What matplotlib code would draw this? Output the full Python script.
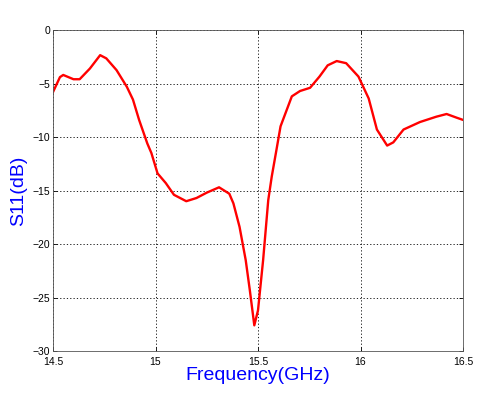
import numpy as np
import matplotlib
matplotlib.use('Agg')
import matplotlib.pyplot as plt

# S11
freq = [14.50, 14.534, 14.55, 14.60, 14.63, 14.68, 14.73, 14.76, 14.81, 14.86,
        14.89, 14.92, 14.96, 14.98, 15.01, 15.05, 15.09, 15.15, 15.20, 15.25,
        15.31, 15.36, 15.38, 15.41, 15.44, 15.46, 15.482, 15.50, 15.525, 15.55,
        15.567, 15.59, 15.61, 15.665, 15.705, 15.754, 15.80, 15.84, 15.884, 15.93,
        15.99, 16.04, 16.08, 16.13, 16.16, 16.21, 16.29, 16.37, 16.42, 16.47, 16.50]
s11 = [-5.8, -4.4, -4.2, -4.6, -4.6, -3.6, -2.35, -2.65, -3.75, -5.3,
       -6.5, -8.4, -10.6, -11.5, -13.4, -14.3, -15.4, -16.0, -15.7, -15.2,
       -14.7, -15.3, -16.2, -18.4, -21.5, -24.3, -27.6, -26.2, -21.5, -15.9,
       -13.7, -11.2, -9.0, -6.2, -5.7, -5.4, -4.35, -3.3, -2.9, -3.1,
       -4.35, -6.4, -9.3, -10.8, -10.5, -9.3, -8.6, -8.1, -7.85, -8.2, -8.4]
xticks = [14.5, 15, 15.5, 16, 16.5]
xticklabels = ['14.5', '15', '15.5', '16', '16.5']
yticks = [-30, -25, -20, -15, -10, -5, 0]

plt.rcParams['font.family'] = ['Liberation Sans', 'DejaVu Sans']

fig = plt.figure(figsize=(5, 3.96), dpi=100)
ax = fig.add_axes([0.106, 0.1136, 0.82, 0.8106])

ax.plot(freq, s11, color='red', linewidth=1.7, solid_joinstyle='round')

ax.set_xlim(14.5, 16.5)
ax.set_ylim(-30, 0)
ax.set_xticks(xticks)
ax.set_xticklabels(xticklabels)
ax.set_yticks(yticks)
ax.grid(True, color='black', linestyle=(0, (1.5, 2.5)), linewidth=0.6)
ax.tick_params(direction='in', top=True, right=True, labelsize=7.5, length=3, width=0.6)
ax.tick_params(axis='x', pad=4)
ax.tick_params(axis='y', pad=2)
for s in ax.spines.values():
    s.set_linewidth(0.6)
    s.set_color('#555555')

ax.set_xlabel('Frequency(GHz)', color='blue', fontsize=14, labelpad=0)
ax.set_ylabel('S11(dB)', color='blue', fontsize=14, labelpad=4)

fig.savefig('out.png', dpi=100)
